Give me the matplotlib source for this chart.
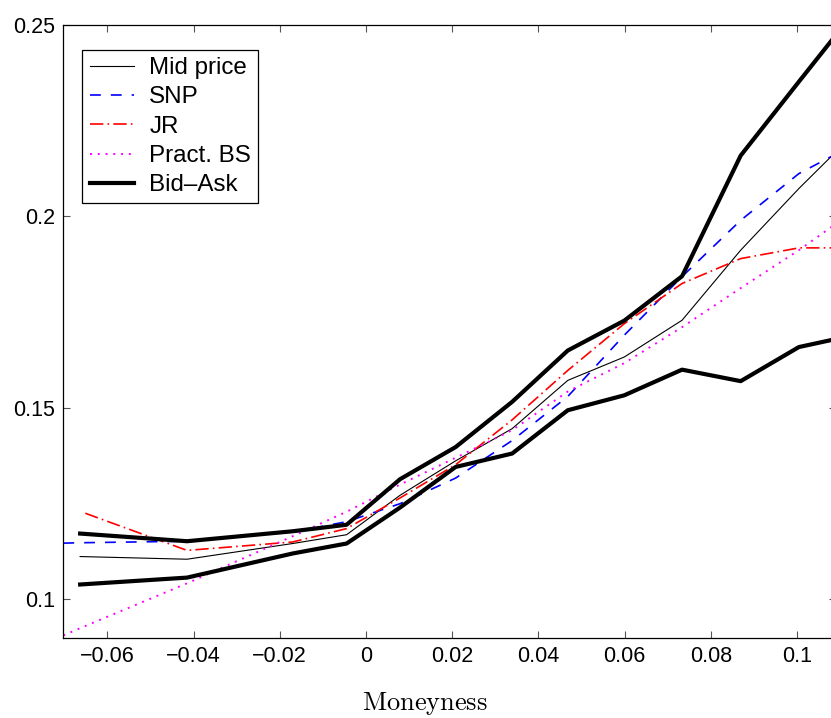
#implied volatility vs moneyness, model comparison
import numpy as np
import matplotlib
matplotlib.use("Agg")
import matplotlib.pyplot as plt

#data
moneyness = [-0.0663, -0.0415, -0.0170, -0.0045, 0.0079, 0.0208, 0.0339,
             0.0468, 0.0599, 0.0733, 0.0869, 0.1004, 0.1090]
mid_price = [0.1112, 0.1105, 0.1146, 0.1169, 0.1272, 0.1362, 0.1446,
             0.1572, 0.1633, 0.1729, 0.1912, 0.2073, 0.2169]
ask = [0.1172, 0.1152, 0.1178, 0.1195, 0.1314, 0.1398, 0.1516,
       0.1650, 0.1728, 0.1844, 0.2159, 0.2352, 0.2474]
bid = [0.1039, 0.1057, 0.1120, 0.1146, 0.1240, 0.1346, 0.1381,
       0.1494, 0.1533, 0.1600, 0.1570, 0.1659, 0.1680]

jr_x = [-0.0651, -0.0415, -0.0170, -0.0045, 0.0079, 0.0208, 0.0339,
        0.0468, 0.0599, 0.0733, 0.0869, 0.1004, 0.1090]
jr = [0.1225, 0.1128, 0.1150, 0.1185, 0.1265, 0.1352, 0.1469,
      0.1598, 0.1720, 0.1825, 0.1890, 0.1918, 0.1918]

#smooth model curves (start at the left border)
curve_x = [-0.0702, -0.0663, -0.0415, -0.0170, -0.0045, 0.0079, 0.0208,
           0.0339, 0.0468, 0.0599, 0.0733, 0.0869, 0.1004, 0.1090]
snp = [0.1147, 0.1148, 0.1152, 0.1176, 0.1203, 0.1250, 0.1317,
       0.1415, 0.1530, 0.1690, 0.1843, 0.1990, 0.2112, 0.2163]
pract_bs = [0.0906, 0.0925, 0.1042, 0.1165, 0.1229, 0.1300, 0.1370,
            0.1442, 0.1543, 0.1617, 0.1711, 0.1813, 0.1912, 0.1981]

xticks = [-0.06, -0.04, -0.02, 0, 0.02, 0.04, 0.06, 0.08, 0.1]
xtick_labels = ['\u22120.06', '\u22120.04', '\u22120.02', '0', '0.02',
                '0.04', '0.06', '0.08', '0.1']
yticks = [0.1, 0.15, 0.2, 0.25]
ytick_labels = ['0.1', '0.15', '0.2', '0.25']

plt.rcParams['font.family'] = ['Liberation Sans', 'DejaVu Sans']
plt.rcParams['mathtext.fontset'] = 'cm'

fig = plt.figure(figsize=(8.31, 7.18), dpi=100)
ax = fig.add_axes([0.0762, 0.1118, 0.9298, 0.8534])

ax.plot(moneyness, mid_price, color='black', lw=0.8, label='Mid price')
ax.plot(curve_x, snp, color='blue', lw=1.2, linestyle=(0, (6.5, 6)), label='SNP')
ax.plot(jr_x, jr, color='red', lw=1.2, linestyle=(0, (8, 2.5, 1, 2.5)), label='JR')
ax.plot(curve_x, pract_bs, color='magenta', lw=1.4, linestyle=(0, (1, 3)), label='Pract. BS')
ax.plot(moneyness, ask, color='black', lw=3.0, label='Bid\u2013Ask')
ax.plot(moneyness, bid, color='black', lw=3.0)

ax.set_xlim(-0.0702, 0.1090)
ax.set_ylim(0.09, 0.25)
ax.set_xticks(xticks)
ax.set_xticklabels(xtick_labels)
ax.set_yticks(yticks)
ax.set_yticklabels(ytick_labels)
ax.tick_params(direction='in', length=5, width=0.8, color='#555555',
               top=True, right=True, labelsize=15.5, pad=6)
for s in ax.spines.values():
    s.set_linewidth(0.9)

ax.set_xlabel(r'$\mathrm{Moneyness}$', fontsize=19)
ax.xaxis.set_label_coords(0.468, -0.085)

leg = ax.legend(loc='upper left', bbox_to_anchor=(0.0246, 0.9592),
                borderaxespad=0, fontsize=17.4, fancybox=False,
                edgecolor='black', framealpha=1, handlelength=1.85,
                handletextpad=0.62, labelspacing=0.3, borderpad=0.3)
leg.get_frame().set_linewidth(0.9)

plt.savefig('out.png', dpi=100)
